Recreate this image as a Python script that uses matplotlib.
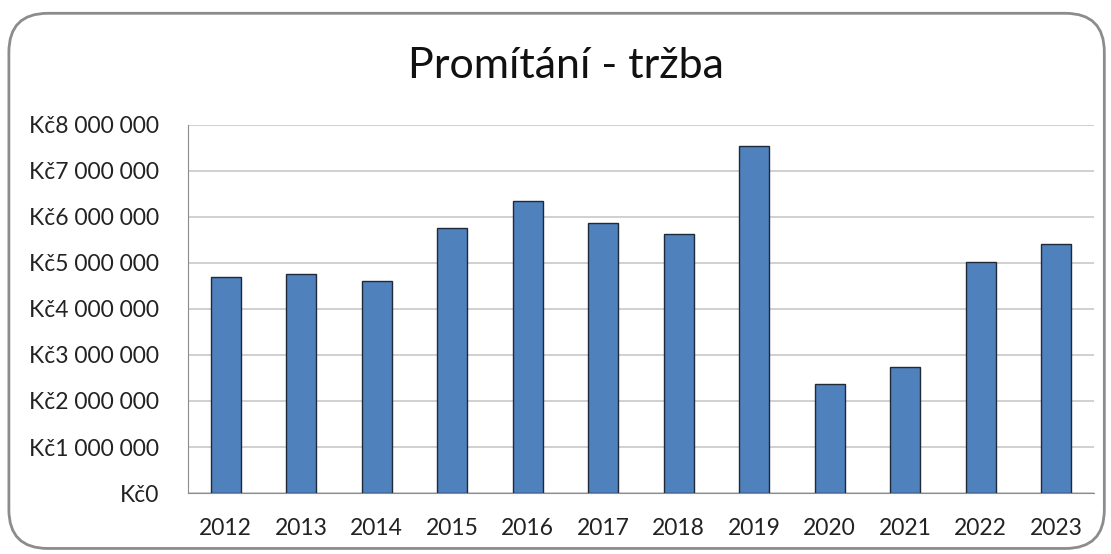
import numpy as np
import matplotlib.pyplot as plt
from matplotlib.patches import FancyBboxPatch
from matplotlib.ticker import FuncFormatter

roky = ['2012', '2013', '2014', '2015', '2016', '2017',
        '2018', '2019', '2020', '2021', '2022', '2023']
trzba = [4700000, 4750000, 4610000, 5750000, 6340000, 5860000,
         5640000, 7550000, 2380000, 2730000, 5020000, 5410000]
y_ticky = [0, 1000000, 2000000, 3000000, 4000000, 5000000, 6000000, 7000000, 8000000]

plt.rcParams['font.family'] = ['Lato', 'DejaVu Sans']


def kc(v, pos):
    return 'Kč' + f'{int(v):,}'.replace(',', ' ')


fig = plt.figure(figsize=(11.11, 5.54), dpi=100)
ram = FancyBboxPatch((0.008, 0.01), 0.986, 0.966, boxstyle='round,pad=0,rounding_size=0.035',
                     transform=fig.transFigure, facecolor='none', edgecolor='#8c8c8c',
                     linewidth=2, mutation_aspect=2.0, zorder=-1)
fig.patches.append(ram)

ax = fig.add_axes([0.1692, 0.1101, 0.8155, 0.6643])
x = np.arange(len(roky))
ax.bar(x, trzba, width=0.4, color='#4f81bd', edgecolor='#1f2a38', linewidth=1.0, zorder=3)

ax.set_xlim(-0.5, len(roky) - 0.5)
ax.set_ylim(0, 8000000)
ax.set_yticks(y_ticky)
ax.yaxis.set_major_formatter(FuncFormatter(kc))
ax.set_xticks(x)
ax.set_xticklabels(roky)
ax.grid(axis='y', color='#c8c8c8', linewidth=1.2, zorder=0)
ax.tick_params(axis='both', length=0, labelsize=16.5, colors='#222222')
ax.tick_params(axis='y', pad=21)
ax.tick_params(axis='x', pad=18)
for s in ['top', 'right']:
    ax.spines[s].set_visible(False)
ax.spines['left'].set_color('#8c8c8c')
ax.spines['bottom'].set_color('#8c8c8c')
ax.set_facecolor('none')

fig.text(0.509, 0.881, 'Promítání - tržba', ha='center', va='center', fontsize=31, color='#111111')

fig.savefig('out.png', dpi=100)
